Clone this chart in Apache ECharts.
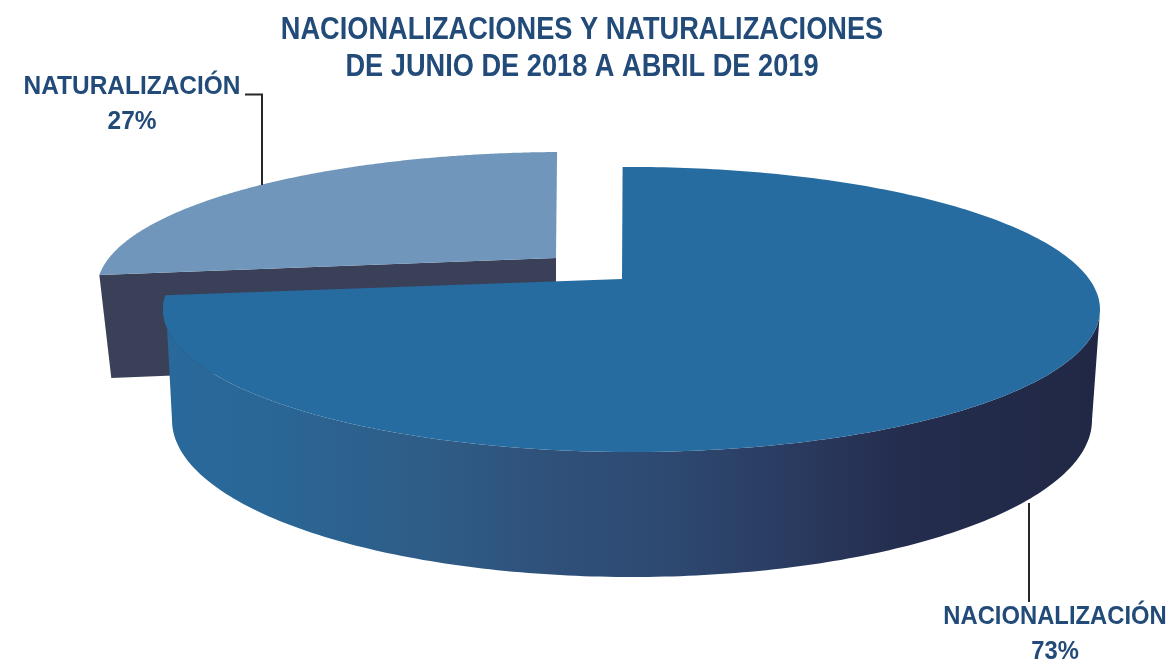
<!DOCTYPE html>
<html><head><meta charset="utf-8">
<style>html,body{margin:0;padding:0;background:#fff}#c{width:1173px;height:664px}</style>
<script src="https://cdn.jsdelivr.net/npm/echarts@6/dist/echarts.min.js"></script>
</head><body><div id="c"></div>
<script>
const titleLines = ['NACIONALIZACIONES Y NATURALIZACIONES', 'DE JUNIO DE 2018 A ABRIL DE 2019'];
const categories = ['NATURALIZACIÓN', 'NACIONALIZACIÓN'];
const percents = [27, 73];

const FONT = '"Liberation Sans",sans-serif';
const TEXT = '#224b7a';
const BASE_ANGLE = -1.4, PERSP = 0.246;
const layouts = [
  { top:{cx:566,cy:288.7,a:469,b:136.7}, bot:{cx:566,cy:391.4,a:457,b:134},
    apex:[556,258], apexBot:[556,360], fill:'#7097bb', side:'#3a4058',
    label:[132,104], scaleX:0.94, leader:[[245,94.5],[262,94.5],[262,185]] },
  { top:{cx:631.5,cy:309.5,a:468.5,b:142.5}, bot:{cx:632,cy:420,a:460,b:157},
    apex:[622,279], fill:'#266ca0',
    label:[1055,634.5], scaleX:0.915, leader:[[1029,503],[1029,602]] }
];
const rad = d => d * Math.PI / 180;
// perspective: angle on the pie disc -> parameter on the drawn ellipse
const phi = t => {
  const u = Math.sin(rad(t)), v = Math.cos(rad(t)), w = 1 + PERSP * v;
  return Math.atan2(u * Math.sqrt(1 - PERSP * PERSP) / w, (v + PERSP) / w);
};
const rim = (e, p) => [e.cx + e.a * Math.sin(p), e.cy - e.b * Math.cos(p)];
const total = percents.reduce((s, v) => s + v, 0);

function renderItem(params, api) {
  const i = params.dataIndex, L = layouts[i];
  let after = 0;
  for (let j = i + 1; j < percents.length; j++) after += percents[j];
  const t0 = BASE_ANGLE + 360 * after / total;
  const t1 = t0 + 360 * api.value(0) / total;
  const arc = [];
  for (let k = 0; k <= 240; k++) arc.push(t0 + (t1 - t0) * k / 240);
  const topArc = arc.map(t => rim(L.top, phi(t)));
  const kids = [];
  if (L.apexBot) {
    // cut face of the slice that sits behind: from its centre to the rim at its left end
    kids.push({ type:'polygon', shape:{points:[L.apex, rim(L.top, phi(t0)), rim(L.bot, phi(t0)), L.apexBot]},
      style:{fill:L.side} });
  } else {
    // outer wall: front half of the rim, from the right extreme round to the slice's end
    const upper = arc.filter(t => t > 60 && (phi(t) >= rad(90) || phi(t) < 0)).map(t => rim(L.top, phi(t)));
    const lower = [];
    for (let d = 270; d >= 90; d -= 1) lower.push(rim(L.bot, rad(d)));
    kids.push({ type:'polygon', shape:{points:upper.concat(lower)},
      style:{ fill:new echarts.graphic.LinearGradient(0,0,1,0,[
        {offset:0,color:'#29699b'},{offset:0.1,color:'#2a6797'},{offset:0.28,color:'#2e5d87'},
        {offset:0.42,color:'#2f5079'},{offset:0.53,color:'#2e4a72'},{offset:0.68,color:'#2a3a5f'},
        {offset:0.79,color:'#242d4e'},{offset:1,color:'#212845'}]) } });
  }
  kids.push({ type:'polygon', shape:{points:[L.apex].concat(topArc)}, style:{fill:L.fill} });
  kids.push({ type:'polyline', shape:{points:L.leader}, style:{stroke:'#26262b',lineWidth:2,fill:'none'} });
  kids.push({ type:'text', x:L.label[0], y:L.label[1], scaleX:L.scaleX,
    style:{ text:categories[i] + '\n' + api.value(0) + '%', fill:TEXT, align:'center', verticalAlign:'middle',
      font:'bold 26px ' + FONT, lineHeight:35 } });
  return { type:'group', children:kids };
}

const chart = echarts.init(document.getElementById('c'));
chart.setOption({
  animation:false,
  backgroundColor:'#fff',
  graphic:[{ type:'text', x:582, y:49, scaleX:0.85,
    style:{ text:titleLines.join('\n'), fill:TEXT, align:'center', verticalAlign:'middle',
      font:'bold 32px ' + FONT, lineHeight:37 } }],
  series:[{ type:'custom', coordinateSystem:'none', renderItem, data:percents.map(v => [v]) }]
});
</script></body></html>
